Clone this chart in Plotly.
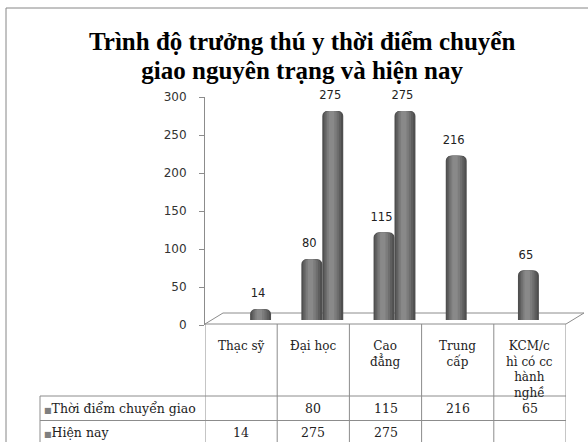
import plotly.graph_objects as go

# ---------------- data ----------------
categories = ["Thạc sỹ", "Đại học", "Cao đẳng", "Trung cấp", "KCM/chỉ có cc hành nghề"]
category_labels = ["Thạc sỹ", "Đại học", "Cao<br>đẳng", "Trung<br>cấp", "KCM/c<br>hì có cc<br>hành<br>nghề"]
series_names = ["Thời điểm chuyển giao", "Hiện nay"]
thoi_diem = [None, 80, 115, 216, 65]
hien_nay = [14, 275, 275, None, None]
y_ticks = [0, 50, 100, 150, 200, 250, 300]
title_lines = ["Trình độ trưởng thú y thời điểm chuyển", "giao nguyên trạng và hiện nay"]

# ---------------- layout helpers ----------------
W, H = 588, 442


def px(x):
    return x / W


def py(y):
    return 1 - y / H


GRID = "#8c8c8c"
SERIF = "DejaVu Serif"
NUMFONT = "DejaVu Sans"
idx = list(range(len(categories)))

fig = go.Figure()

# invisible trace so the visible (table-aligned) axes are drawn
fig.add_trace(go.Scatter(x=idx, y=[None] * len(idx), mode="markers",
                         xaxis="x", yaxis="y", showlegend=False, hoverinfo="skip"))

# cylinder-like shading: several overlaid bars of decreasing width
bw = 0.29
layers = [(1.0, "#4f4f4f", 5), (0.82, "#5e5e5e", 4), (0.64, "#6e6e6e", 3),
          (0.46, "#7c7c7c", 2), (0.26, "#898989", 1)]
for s_idx, vals in enumerate([thoi_diem, hien_nay]):
    base_off = -bw if s_idx == 0 else 0.0
    h = base_off + 0.42 * bw  # highlight position inside the bar
    for f, col, rad in layers:
        fig.add_trace(go.Bar(
            x=idx, y=vals, xaxis="x2", yaxis="y2",
            offset=h - f * 0.42 * bw, width=f * bw,
            marker=dict(color=col, line=dict(width=0), cornerradius=rad),
            showlegend=False, hoverinfo="skip", name=series_names[s_idx],
        ))
    # value labels above each cylinder
    fig.add_trace(go.Scatter(
        x=[i + base_off + bw / 2 - 0.035 for i in idx], y=vals, xaxis="x2", yaxis="y2",
        mode="markers+text", marker=dict(size=13, color="rgba(0,0,0,0)"),
        text=[("" if v is None else str(v)) for v in vals], textposition="top center",
        textfont=dict(family=NUMFONT, size=11.5, color="#222222"),
        cliponaxis=False, showlegend=False, hoverinfo="skip",
    ))

shapes = []
# outer chart frame (right and bottom edges lie outside the picture)
shapes.append(dict(type="rect", xref="paper", yref="paper",
                   x0=px(6), x1=px(600), y0=py(8), y1=py(460),
                   line=dict(color="#868686", width=1), fillcolor="rgba(0,0,0,0)"))
# 3D floor
floor_path = "M {},{} L {},{} L {},{} L {},{} Z".format(
    px(205), py(324), px(566), py(324), px(584), py(313), px(223), py(313))
shapes.append(dict(type="path", xref="paper", yref="paper", path=floor_path,
                   line=dict(color=GRID, width=1), fillcolor="#ffffff", layer="below"))
# table vertical lines
for i in range(len(categories) + 1):
    shapes.append(dict(type="line", xref="x", yref="paper",
                       x0=i - 0.5, x1=i - 0.5, y0=py(324), y1=py(460),
                       line=dict(color=GRID, width=1)))
# table horizontal lines
for yy in [396, 420.5]:
    shapes.append(dict(type="line", xref="paper", yref="paper",
                       x0=px(40), x1=px(566), y0=py(yy), y1=py(yy),
                       line=dict(color=GRID, width=1)))
shapes.append(dict(type="line", xref="paper", yref="paper",
                   x0=px(40), x1=px(40), y0=py(396), y1=py(460),
                   line=dict(color=GRID, width=1)))

annotations = []
title_html = "<br>".join("<span style='font-size:25px'><b>" + t + "</b></span>" for t in title_lines)
annotations.append(dict(text=title_html, xref="paper", yref="paper",
                        x=px(302), y=py(56), xanchor="center", yanchor="middle",
                        showarrow=False, align="center",
                        font=dict(family="Liberation Serif", size=22, color="#000000")))
for i, lab in zip(idx, category_labels):
    annotations.append(dict(text=lab, xref="x", yref="paper", x=i, y=py(337),
                            xanchor="center", yanchor="top", showarrow=False, align="center",
                            font=dict(family=SERIF, size=12, color="#222222")))
row_y = [408, 432]
for r, (name, vals) in enumerate(zip(series_names, [thoi_diem, hien_nay])):
    annotations.append(dict(text="<span style='font-size:8px;color:#7f7f7f'>■</span>" + name,
                            xref="paper", yref="paper", x=px(42), y=py(row_y[r]),
                            xanchor="left", yanchor="middle", showarrow=False,
                            font=dict(family=SERIF, size=12.5, color="#222222")))
    for i, v in zip(idx, vals):
        if v is None:
            continue
        annotations.append(dict(text=str(v), xref="x", yref="paper", x=i, y=py(row_y[r]),
                                xanchor="center", yanchor="middle", showarrow=False,
                                font=dict(family=SERIF, size=12.5, color="#222222")))

fig.update_layout(
    width=W, height=H,
    margin=dict(l=0, r=0, t=0, b=0),
    paper_bgcolor="#ffffff", plot_bgcolor="rgba(0,0,0,0)",
    barmode="overlay",
    showlegend=False,
    xaxis=dict(domain=[px(205), px(566)], range=[-0.5, 4.5], visible=False, anchor="y"),
    yaxis=dict(domain=[py(325), py(97)], range=[0, 300], tickvals=y_ticks,
               ticks="outside", ticklen=5, tickcolor=GRID, showline=True, linecolor=GRID,
               showgrid=False, zeroline=False, anchor="x", ticklabelstandoff=10,
               automargin=False,
               tickfont=dict(family=NUMFONT, size=12, color="#333333")),
    xaxis2=dict(domain=[px(214), px(575)], range=[-0.5, 4.5], visible=False, anchor="y2"),
    yaxis2=dict(domain=[py(320), py(92)], range=[0, 300], visible=False, anchor="x2"),
    shapes=shapes,
    annotations=annotations,
)

fig.write_html("out.html", config={"displayModeBar": False},
               post_script="document.body.style.margin='0px';document.body.style.overflow='hidden';")
